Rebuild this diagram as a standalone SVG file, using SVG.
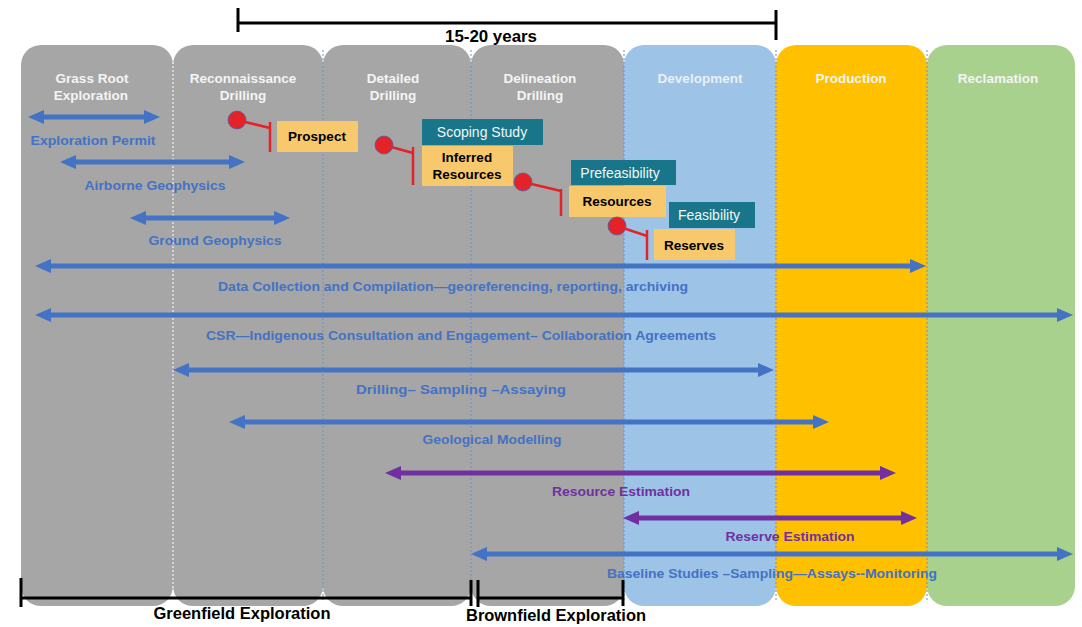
<svg xmlns="http://www.w3.org/2000/svg" width="1082" height="627" viewBox="0 0 1082 627">
<style>
.hdr{font-family:"Liberation Sans",Arial,sans-serif;font-weight:bold;font-size:13.5px;fill:#f4f4f4;text-anchor:middle}
.lbl{font-family:"Liberation Sans",Arial,sans-serif;font-weight:bold;font-size:12.5px;fill:#4472c4;text-anchor:middle}
.plbl{font-family:"Liberation Sans",Arial,sans-serif;font-weight:bold;font-size:13px;fill:#7030a0;text-anchor:middle}
.blk{font-family:"Liberation Sans",Arial,sans-serif;font-weight:bold;font-size:16px;fill:#000;text-anchor:middle}
.ybox{fill:#f7c96c}
.tbox{fill:#19768a}
.ytxt{font-family:"Liberation Sans",Arial,sans-serif;font-weight:bold;font-size:13.5px;fill:#000;text-anchor:middle}
.ttxt{font-family:"Liberation Sans",Arial,sans-serif;font-size:14px;fill:#f0f6f8;text-anchor:middle}
.barr{stroke:#4472c4;stroke-width:5;fill:none;marker-start:url(#hb);marker-end:url(#hb)}
.parr{stroke:#7030a0;stroke-width:5;fill:none;marker-start:url(#hp);marker-end:url(#hp)}
.red{stroke:#e42328;stroke-width:2.5;fill:none}
.dot{fill:#e42328;stroke:#4a5fa8;stroke-width:0.8}
.div{stroke:#6d8fcf;stroke-width:1;stroke-dasharray:2,2}
.brk{stroke:#000;stroke-width:3;fill:none}
</style>
<defs>
<marker id="hb" viewBox="0 0 16 14" refX="7" refY="7" markerWidth="16" markerHeight="14" markerUnits="userSpaceOnUse" orient="auto-start-reverse"><path d="M0,0 L16,7 L0,14 z" fill="#4472c4"/></marker>
<marker id="hp" viewBox="0 0 16 14" refX="7" refY="7" markerWidth="16" markerHeight="14" markerUnits="userSpaceOnUse" orient="auto-start-reverse"><path d="M0,0 L16,7 L0,14 z" fill="#7030a0"/></marker>
</defs>

<g id="col-grassroot"><rect x="21" y="45" width="152" height="561" rx="20" fill="#a6a6a6"/><text class="hdr" x="92" y="83">Grass Root</text><text class="hdr" x="91" y="100">Exploration</text></g>
<g id="col-recon"><rect x="173" y="45" width="150" height="561" rx="20" fill="#a6a6a6"/><text class="hdr" x="243" y="83">Reconnaissance</text><text class="hdr" x="243" y="100">Drilling</text></g>
<g id="col-detailed"><rect x="323" y="45" width="148" height="561" rx="20" fill="#a6a6a6"/><text class="hdr" x="393" y="83">Detailed</text><text class="hdr" x="393" y="100">Drilling</text></g>
<g id="col-delineation"><rect x="471" y="45" width="153" height="561" rx="20" fill="#a6a6a6"/><text class="hdr" x="540" y="83">Delineation</text><text class="hdr" x="540" y="100">Drilling</text></g>
<g id="col-development"><rect x="624" y="45" width="152" height="561" rx="20" fill="#9dc3e6"/><text class="hdr" x="700" y="83" fill="#e9f0f8" style="fill:#e9f0f8">Development</text></g>
<g id="col-production"><rect x="776" y="45" width="151" height="561" rx="20" fill="#ffc000"/><text class="hdr" x="851" y="83">Production</text></g>
<g id="col-reclamation"><rect x="927" y="45" width="148" height="561" rx="20" fill="#a9d18e"/><text class="hdr" x="998" y="83">Reclamation</text></g>

<g id="dividers">
<line x1="173" y1="50" x2="173" y2="600" stroke="#ffffff" stroke-width="1" stroke-dasharray="2,2"/>
<line class="div" x1="323" y1="50" x2="323" y2="600"/>
<line class="div" x1="471" y1="50" x2="471" y2="600"/>
<line class="div" x1="624" y1="50" x2="624" y2="600"/>
<line class="div" x1="776" y1="50" x2="776" y2="600"/>
<line class="div" x1="927" y1="50" x2="927" y2="600"/>
</g>

<g id="connectors">
<line class="barr" x1="37" y1="117" x2="151" y2="117"/>
<line class="barr" x1="69" y1="162" x2="236" y2="162"/>
<line class="barr" x1="139" y1="218" x2="281" y2="218"/>
<line class="barr" x1="44" y1="266" x2="917" y2="266"/>
<line class="barr" x1="44" y1="315" x2="1064" y2="315"/>
<line class="barr" x1="182" y1="370" x2="765" y2="370"/>
<line class="barr" x1="238" y1="422" x2="820" y2="422"/>
<line class="parr" x1="394" y1="473" x2="887" y2="473"/>
<line class="parr" x1="632" y1="518" x2="908" y2="518"/>
<line class="barr" x1="480" y1="554" x2="1064" y2="554"/>
</g>

<g id="labels">
<text class="lbl" x="93" y="145" textLength="125" lengthAdjust="spacingAndGlyphs">Exploration Permit</text>
<text class="lbl" x="155" y="190" textLength="141" lengthAdjust="spacingAndGlyphs">Airborne Geophysics</text>
<text class="lbl" x="215" y="245" textLength="133" lengthAdjust="spacingAndGlyphs">Ground Geophysics</text>
<text class="lbl" x="453" y="291" textLength="470" lengthAdjust="spacingAndGlyphs">Data Collection and Compilation—georeferencing, reporting, archiving</text>
<text class="lbl" x="461" y="340" textLength="510" lengthAdjust="spacingAndGlyphs">CSR—Indigenous Consultation and Engagement– Collaboration Agreements</text>
<text class="lbl" x="461" y="394" textLength="210" lengthAdjust="spacingAndGlyphs">Drilling– Sampling –Assaying</text>
<text class="lbl" x="492" y="444" textLength="139" lengthAdjust="spacingAndGlyphs">Geological Modelling</text>
<text class="plbl" x="621" y="496" textLength="138" lengthAdjust="spacingAndGlyphs">Resource Estimation</text>
<text class="plbl" x="790" y="541" textLength="129" lengthAdjust="spacingAndGlyphs">Reserve Estimation</text>
<text class="lbl" x="772" y="578" textLength="330" lengthAdjust="spacingAndGlyphs">Baseline Studies –Sampling—Assays--Monitoring</text>
</g>

<g id="stage-prospect">
<line class="red" x1="237" y1="120" x2="270" y2="128"/><line class="red" x1="270" y1="122" x2="270" y2="152"/>
<circle class="dot" cx="237" cy="120" r="9"/>
<rect class="ybox" x="277" y="121" width="81" height="31"/>
<text class="ytxt" x="317" y="141">Prospect</text>
</g>
<g id="stage-scoping">
<rect class="tbox" x="422" y="119" width="121" height="26"/>
<text class="ttxt" x="482" y="137">Scoping Study</text>
<line class="red" x1="384" y1="145" x2="413" y2="153"/><line class="red" x1="413" y1="147" x2="413" y2="185"/>
<circle class="dot" cx="384" cy="145" r="9"/>
<rect class="ybox" x="422" y="146" width="91" height="40"/>
<text class="ytxt" x="467" y="162">Inferred</text>
<text class="ytxt" x="467" y="179">Resources</text>
</g>
<g id="stage-prefeasibility">
<rect class="tbox" x="571" y="160" width="105" height="25"/>
<text class="ttxt" x="620" y="178">Prefeasibility</text>
<line class="red" x1="523" y1="182" x2="561" y2="191"/><line class="red" x1="561" y1="189" x2="561" y2="216"/>
<circle class="dot" cx="523" cy="182" r="9"/>
<rect class="ybox" x="569" y="186" width="97" height="31"/>
<text class="ytxt" x="617" y="206">Resources</text>
</g>
<g id="stage-feasibility">
<rect class="tbox" x="669" y="202" width="86" height="26"/>
<text class="ttxt" x="709" y="220">Feasibility</text>
<line class="red" x1="617" y1="226" x2="647" y2="236"/><line class="red" x1="647" y1="230" x2="647" y2="260"/>
<circle class="dot" cx="617" cy="226" r="9"/>
<rect class="ybox" x="654" y="229" width="81" height="31"/>
<text class="ytxt" x="694" y="250">Reserves</text>
</g>

<g id="bracket-years">
<line class="brk" x1="238" y1="23" x2="776" y2="23"/>
<line class="brk" x1="238" y1="8" x2="238" y2="32"/>
<line class="brk" x1="776" y1="10" x2="776" y2="40"/>
<text class="blk" x="491" y="42" textLength="92" lengthAdjust="spacingAndGlyphs">15-20 years</text>
</g>
<g id="bracket-greenfield">
<line class="brk" x1="21" y1="598" x2="471" y2="598"/>
<line class="brk" x1="21" y1="578" x2="21" y2="607"/>
<line class="brk" x1="471" y1="580" x2="471" y2="606"/>
<text class="blk" x="242" y="619" textLength="177" lengthAdjust="spacingAndGlyphs">Greenfield Exploration</text>
</g>
<g id="bracket-brownfield">
<line class="brk" x1="478" y1="598" x2="623" y2="598"/>
<line class="brk" x1="478" y1="580" x2="478" y2="607"/>
<line class="brk" x1="623" y1="580" x2="623" y2="606"/>
<text class="blk" x="556" y="621" textLength="180" lengthAdjust="spacingAndGlyphs">Brownfield Exploration</text>
</g>
</svg>
